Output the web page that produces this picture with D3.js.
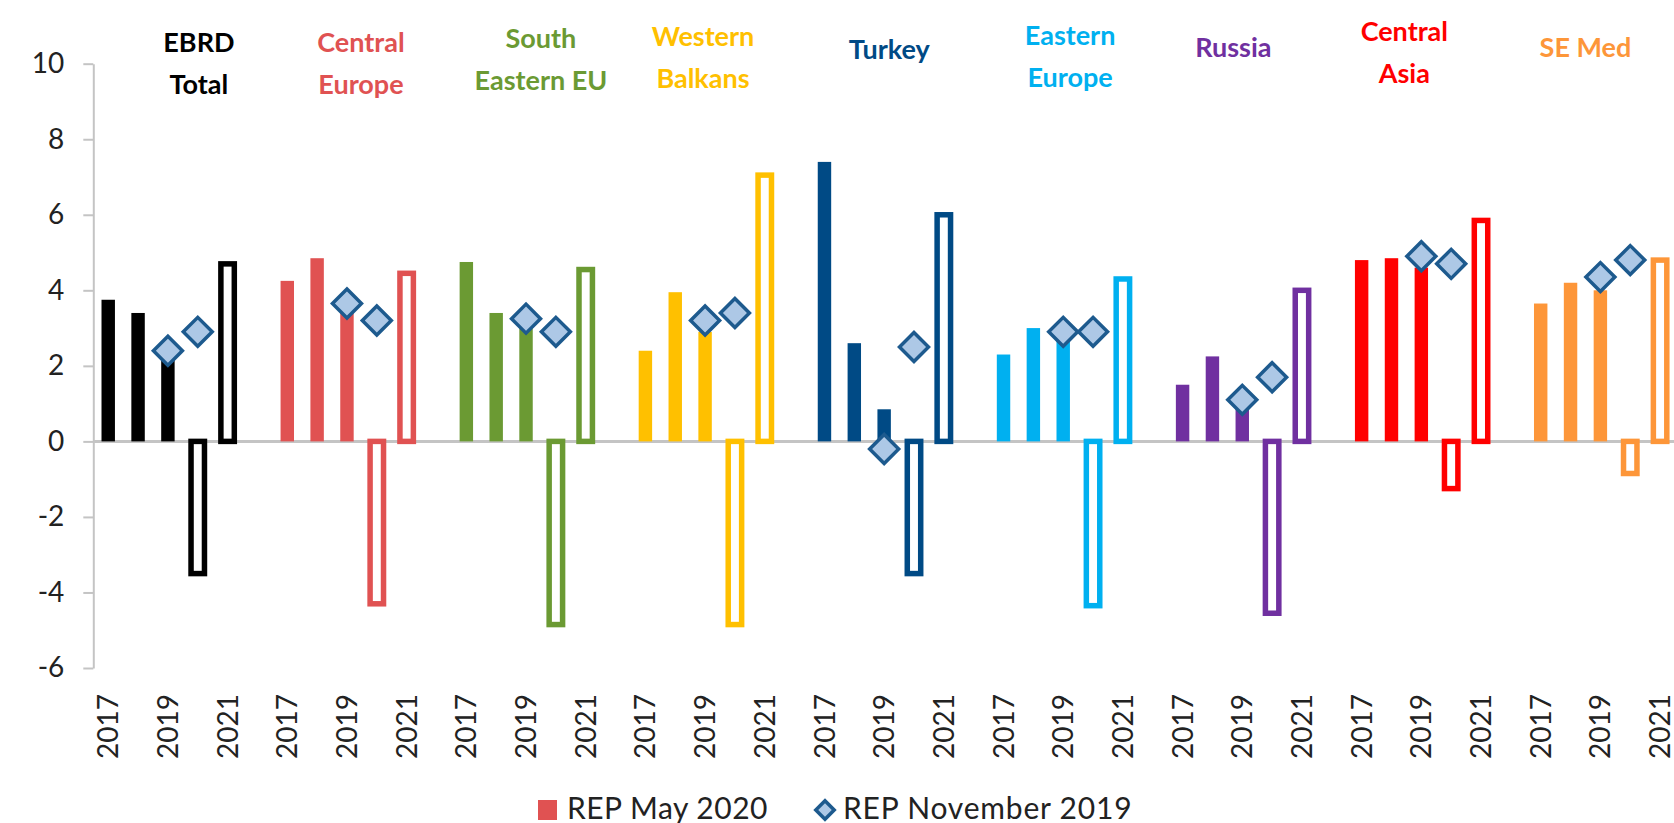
<!DOCTYPE html>
<html>
<head>
<meta charset="utf-8">
<script src="https://cdn.jsdelivr.net/npm/d3@7"></script>
<style>
  body { margin: 0; background: #fff; }
  svg { display: block; }
  text { font-family: Lato, 'Open Sans', sans-serif; }
</style>
</head>
<body>
<svg width="1674" height="823"></svg>
<script>
const groups = ['EBRD Total', 'Central Europe', 'South Eastern EU', 'Western Balkans', 'Turkey',
  'Eastern Europe', 'Russia', 'Central Asia', 'SE Med'];
const groupLines = [['EBRD', 'Total'], ['Central', 'Europe'], ['South', 'Eastern EU'], ['Western', 'Balkans'],
  ['Turkey'], ['Eastern', 'Europe'], ['Russia'], ['Central', 'Asia'], ['SE Med']];
const years = ['2017', '2018', '2019', '2020', '2021'];
const labelYears = ['2017', '2019', '2021'];
const forecastYears = ['2019', '2020'];

// REP May 2020 (2020 and 2021 are forecasts, drawn hollow)
const may2020 = [
  [3.75, 3.4, 2.2, -3.5, 4.7],
  [4.25, 4.85, 3.4, -4.3, 4.45],
  [4.75, 3.4, 3.0, -4.85, 4.55],
  [2.4, 3.95, 2.9, -4.85, 7.05],
  [7.4, 2.6, 0.85, -3.5, 6.0],
  [2.3, 3.0, 2.7, -4.35, 4.3],
  [1.5, 2.25, 1.3, -4.55, 4.0],
  [4.8, 4.85, 4.6, -1.25, 5.85],
  [3.65, 4.2, 4.0, -0.85, 4.8]
];
// REP November 2019 (2019, 2020)
const nov2019 = [
  [2.4, 2.9], [3.65, 3.2], [3.25, 2.9], [3.2, 3.4], [-0.2, 2.5],
  [2.9, 2.9], [1.1, 1.7], [4.9, 4.7], [4.35, 4.8]
];
const yTicks = [-6, -4, -2, 0, 2, 4, 6, 8, 10];

const colors = ['#000000', '#e05252', '#6b9a33', '#ffc000', '#004a85', '#00b0f0', '#7030a0', '#ff0000', '#fd9639'];
// small nudges of the hand-placed region titles, in slot widths / pixels
const labelNudge = [1.04, 0.47, 0.5, -0.07, 0.17, 0.23, -0.3, -0.57, -0.5];
const labelTop = [43, 43, 39, 37, 50, 36, 48, 32, 48];

const svg = d3.select('svg');

const slots = [];
groups.forEach((g, gi) => {
  years.forEach((y) => slots.push(gi + '|' + y));
  if (gi < groups.length - 1) slots.push(gi + '|gap');
});

const x = d3.scaleBand().domain(slots).range([93.3, 1675]).padding(0);
const bw = x.bandwidth();
const barW = bw * 0.45;
const cx = (gi, y) => x(gi + '|' + y) + bw / 2;

const yScale = d3.scaleLinear().domain([-6, 10]).range([668, 63.7]);

// y axis
const yAxis = d3.axisLeft(yScale)
  .tickValues(yTicks)
  .tickSize(10)
  .tickSizeOuter(0)
  .tickPadding(19)
  .tickFormat((d) => String(d));
const ya = svg.append('g').attr('transform', 'translate(93.3,0)').call(yAxis);
ya.select('.domain').attr('stroke', '#c4c4c4').attr('stroke-width', 2);
ya.selectAll('.tick line').attr('stroke', '#c4c4c4').attr('stroke-width', 2);
ya.selectAll('.tick text').attr('font-size', 28).attr('fill', '#222')
  .style('font-family', 'Lato, sans-serif');

// zero line
svg.append('line')
  .attr('x1', 93.3).attr('x2', 1674)
  .attr('y1', yScale(0)).attr('y2', yScale(0))
  .attr('stroke', '#c4c4c4').attr('stroke-width', 3);

// x labels
const xAxis = d3.axisBottom(x)
  .tickValues(slots.filter((s) => labelYears.includes(s.split('|')[1])))
  .tickSize(0)
  .tickFormat((s) => s.split('|')[1]);
const xa = svg.append('g').attr('transform', 'translate(0,694)').call(xAxis);
xa.select('.domain').remove();
xa.selectAll('.tick text')
  .attr('transform', 'rotate(-90)')
  .attr('x', 0).attr('y', 0).attr('dy', '0.36em')
  .style('text-anchor', 'end')
  .attr('font-size', 28).attr('fill', '#222')
  .style('font-family', 'Lato, sans-serif');

// bars
const barData = [];
may2020.forEach((vals, gi) => vals.forEach((v, yi) => barData.push({ gi, year: years[yi], v, hollow: yi >= 3 })));

svg.append('g').selectAll('rect')
  .data(barData)
  .enter()
  .append('rect')
  .attr('x', (d) => cx(d.gi, d.year) - barW / 2)
  .attr('width', barW)
  .attr('y', (d) => yScale(Math.max(0, d.v)))
  .attr('height', (d) => Math.abs(yScale(d.v) - yScale(0)))
  .attr('fill', (d) => (d.hollow ? '#fff' : colors[d.gi]))
  .attr('stroke', (d) => (d.hollow ? colors[d.gi] : 'none'))
  .attr('stroke-width', 5.5);

// diamonds
const diamond = d3.symbol(d3.symbolSquare, 420);
const dotData = [];
nov2019.forEach((vals, gi) => vals.forEach((v, i) => dotData.push({ gi, year: forecastYears[i], v })));

svg.append('g').selectAll('path')
  .data(dotData)
  .enter()
  .append('path')
  .attr('d', diamond)
  .attr('transform', (d) => `translate(${cx(d.gi, d.year)},${yScale(d.v)}) rotate(45)`)
  .attr('fill', '#adc8e6')
  .attr('stroke', '#1d5a8e')
  .attr('stroke-width', 3.5);

// region titles
groupLines.forEach((lines, gi) => {
  const t = svg.append('text')
    .attr('font-size', 27)
    .attr('font-weight', 'bold')
    .attr('fill', colors[gi])
    .attr('text-anchor', 'middle');
  lines.forEach((line, li) => {
    t.append('tspan')
      .attr('x', cx(gi, '2019') + labelNudge[gi] * bw)
      .attr('y', labelTop[gi] + li * 42)
      .attr('dy', '0.35em')
      .text(line);
  });
});

// legend
const legend = svg.append('g').attr('transform', 'translate(0,810)');
legend.append('rect').attr('x', 538).attr('y', -10).attr('width', 19).attr('height', 20).attr('fill', colors[1]);
legend.append('text').attr('x', 567).attr('y', 9)
  .attr('font-size', 30).attr('letter-spacing', 0.5).attr('fill', '#222').text('REP May 2020');
legend.append('path')
  .attr('d', d3.symbol(d3.symbolSquare, 170))
  .attr('transform', 'translate(825,0) rotate(45)')
  .attr('fill', '#adc8e6').attr('stroke', '#1d5a8e').attr('stroke-width', 3.5);
legend.append('text').attr('x', 843).attr('y', 9)
  .attr('font-size', 30).attr('letter-spacing', 0.8).attr('fill', '#222').text('REP November 2019');
</script>
</body>
</html>
